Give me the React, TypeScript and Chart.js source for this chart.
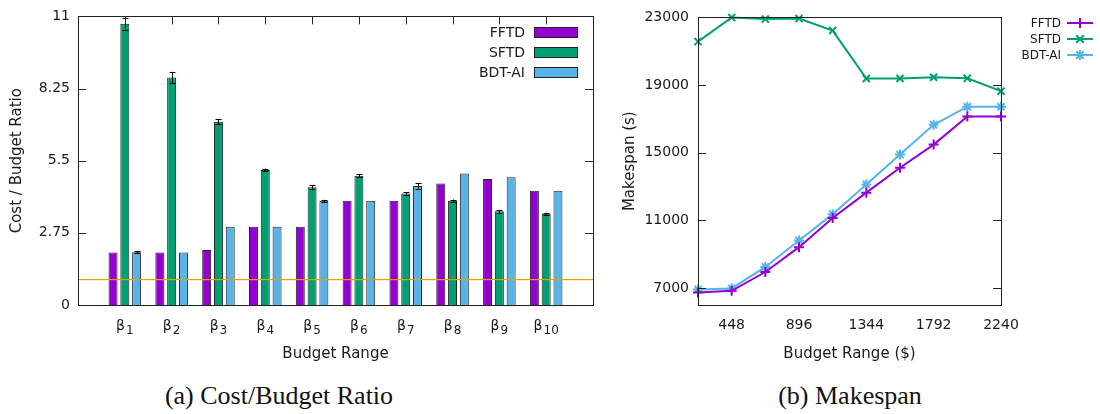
import { useEffect, useRef } from 'react';
import { Chart, registerables } from 'chart.js';
Chart.register(...registerables);

// ---- Chart (a): Cost / Budget Ratio ----
const categoryBase = 'β';
const categorySubs = ['1', '2', '3', '4', '5', '6', '7', '8', '9', '10'];
const fftdRatio = [2.0, 2.0, 2.1, 2.98, 2.98, 3.97, 3.97, 4.63, 4.8, 4.35];
const sftdRatio = [10.72, 8.67, 6.98, 5.15, 4.49, 4.93, 4.25, 3.97, 3.57, 3.48];
const bdtRatio = [2.01, 2.0, 2.98, 2.98, 3.97, 3.97, 4.54, 5.01, 4.87, 4.35];
const fftdErr = [0, 0, 0, 0, 0, 0, 0, 0, 0, 0];
const sftdErr = [0.22, 0.22, 0.1, 0.05, 0.08, 0.05, 0.04, 0.05, 0.06, 0.04];
const bdtErr = [0.03, 0, 0, 0, 0.04, 0, 0.1, 0, 0, 0];
const ratioTicks = [0, 2.75, 5.5, 8.25, 11];
const budgetLine = 1;

// ---- Chart (b): Makespan ----
const budgets = [224, 448, 672, 896, 1120, 1344, 1568, 1792, 2016, 2240];
const fftdMakespan = [6740, 6840, 7950, 9420, 11140, 12640, 14110, 15480, 17140, 17140];
const sftdMakespan = [21570, 23000, 22900, 22930, 22220, 19390, 19390, 19460, 19400, 18640];
const bdtMakespan = [6920, 6980, 8250, 9810, 11370, 13130, 14890, 16650, 17720, 17720];
const budgetTicks = [448, 896, 1344, 1792, 2240];
const makespanTicks = [7000, 11000, 15000, 19000, 23000];

const seriesNames = ['FFTD', 'SFTD', 'BDT-AI'];
const colors = ['#9400D3', '#009E73', '#56B4E9'];
const FONT = "'DejaVu Sans', Verdana, sans-serif";
const TEXT = '#1a1a1a';

const frameAndTicks1 = {
  id: 'frameAndTicks1',
  afterDatasetsDraw(chart: any) {
    const { ctx, chartArea: a, scales } = chart;
    const y = scales.y;
    ctx.save();
    // budget line
    ctx.fillStyle = '#E69F00';
    const yl = Math.round(y.getPixelForValue(budgetLine));
    ctx.fillRect(a.left, yl, a.right - a.left, 1.2);
    // error bars
    const errs = [fftdErr, sftdErr, bdtErr];
    const vals = [fftdRatio, sftdRatio, bdtRatio];
    ctx.strokeStyle = '#000';
    ctx.lineWidth = 1;
    chart.data.datasets.forEach((_: any, di: number) => {
      const meta = chart.getDatasetMeta(di);
      errs[di].forEach((e: number, i: number) => {
        if (!e) return;
        const el = meta.data[i + 1];
        if (!el) return;
        const x = Math.round(el.x) + 0.5;
        const y1 = y.getPixelForValue(vals[di][i] + e);
        const y2 = y.getPixelForValue(vals[di][i] - e);
        ctx.beginPath();
        ctx.moveTo(x, y1);
        ctx.lineTo(x, y2);
        ctx.moveTo(x - 3, Math.round(y1) + 0.5);
        ctx.lineTo(x + 3, Math.round(y1) + 0.5);
        ctx.moveTo(x - 3, Math.round(y2) + 0.5);
        ctx.lineTo(x + 3, Math.round(y2) + 0.5);
        ctx.stroke();
      });
    });
    ctx.restore();
  },
  afterDraw(chart: any) {
    const { ctx, chartArea: a, scales } = chart;
    ctx.save();
    ctx.strokeStyle = '#222';
    ctx.lineWidth = 1;
    ctx.strokeRect(Math.round(a.left) + 0.5, Math.round(a.top) + 0.5, Math.round(a.right - a.left), Math.round(a.bottom - a.top));
    ctx.beginPath();
    ratioTicks.forEach((v) => {
      if (v === ratioTicks[0] || v === ratioTicks[ratioTicks.length - 1]) return;
      const yy = Math.round(scales.y.getPixelForValue(v)) + 0.5;
      ctx.moveTo(a.left, yy);
      ctx.lineTo(a.left + 8, yy);
      ctx.moveTo(a.right - 8, yy);
      ctx.lineTo(a.right, yy);
    });
    categorySubs.forEach((_, i) => {
      const xx = Math.round(scales.x.getPixelForValue(i + 1)) + 0.5;
      ctx.moveTo(xx, a.top);
      ctx.lineTo(xx, a.top + 8);
    });
    ctx.stroke();
    // category tick labels: β with subscript
    ctx.fillStyle = TEXT;
    ctx.textBaseline = 'alphabetic';
    ctx.textAlign = 'left';
    const baseFont = `14px ${FONT}`;
    const subFont = `12px ${FONT}`;
    categorySubs.forEach((s, i) => {
      const cx = scales.x.getPixelForValue(i + 1);
      ctx.font = baseFont;
      const wb = ctx.measureText(categoryBase).width;
      ctx.font = subFont;
      const ws = ctx.measureText(s).width;
      const x0 = cx - (wb + ws + 1) / 2;
      ctx.font = baseFont;
      ctx.fillText(categoryBase, x0, a.bottom + 25);
      ctx.font = subFont;
      ctx.fillText(s, x0 + wb + 1, a.bottom + 29);
    });
    // legend
    ctx.font = `14px ${FONT}`;
    ctx.textAlign = 'right';
    ctx.textBaseline = 'middle';
    seriesNames.forEach((n, i) => {
      const cy = 32 + i * 20;
      ctx.fillStyle = TEXT;
      ctx.fillText(n, 525, cy + 1);
      ctx.fillStyle = colors[i];
      ctx.fillRect(534, cy - 5, 43, 10);
      ctx.strokeStyle = '#222';
      ctx.strokeRect(534.5, cy - 5 + 0.5, 43, 10);
    });
    ctx.restore();
  },
};

function drawMarker(ctx: CanvasRenderingContext2D, style: number, x: number, y: number, r: number) {
  ctx.beginPath();
  if (style === 0 || style === 2) {
    ctx.moveTo(x - r, y); ctx.lineTo(x + r, y);
    ctx.moveTo(x, y - r); ctx.lineTo(x, y + r);
  }
  if (style === 1 || style === 2) {
    const d = r * 0.75;
    ctx.moveTo(x - d, y - d); ctx.lineTo(x + d, y + d);
    ctx.moveTo(x - d, y + d); ctx.lineTo(x + d, y - d);
  }
  ctx.stroke();
}

const frameAndTicks2 = {
  id: 'frameAndTicks2',
  afterDraw(chart: any) {
    const { ctx, chartArea: a, scales } = chart;
    ctx.save();
    ctx.strokeStyle = '#222';
    ctx.lineWidth = 1;
    ctx.strokeRect(Math.round(a.left) + 0.5, Math.round(a.top) + 0.5, Math.round(a.right - a.left), Math.round(a.bottom - a.top));
    ctx.beginPath();
    makespanTicks.forEach((v) => {
      if (v === makespanTicks[makespanTicks.length - 1]) return;
      const yy = Math.round(scales.y.getPixelForValue(v)) + 0.5;
      ctx.moveTo(a.left, yy);
      ctx.lineTo(a.left + 8, yy);
      ctx.moveTo(a.right - 8, yy);
      ctx.lineTo(a.right, yy);
    });
    ctx.stroke();
    // legend
    ctx.font = `12px ${FONT}`;
    ctx.textAlign = 'right';
    ctx.textBaseline = 'middle';
    seriesNames.forEach((n, i) => {
      const cy = 23 + i * 16;
      ctx.fillStyle = TEXT;
      ctx.fillText(n, 461, cy + 1);
      ctx.strokeStyle = colors[i];
      ctx.lineWidth = 2;
      ctx.beginPath();
      ctx.moveTo(467, cy);
      ctx.lineTo(493, cy);
      ctx.stroke();
      drawMarker(ctx, i, 480, cy, 5);
    });
    ctx.restore();
  },
};

function makeRatioConfig(): any {
  const labels = ['', ...categorySubs.map((s) => categoryBase + s), ''];
  const pad = (arr: number[]) => [null, ...arr, null];
  const vals = [fftdRatio, sftdRatio, bdtRatio];
  return {
    type: 'bar',
    data: {
      labels,
      datasets: seriesNames.map((n, i) => ({
        label: n,
        data: pad(vals[i]),
        backgroundColor: colors[i],
        borderColor: '#222',
        borderWidth: 1,
        categoryPercentage: 0.756,
        barPercentage: 0.76,
      })),
    },
    options: {
      responsive: false,
      animation: false,
      layout: { padding: { left: 0, right: 7, top: 15, bottom: 0 } },
      plugins: { legend: { display: false }, tooltip: { enabled: false } },
      scales: {
        x: {
          type: 'category',
          offset: false,
          grid: { display: false, drawTicks: false },
          border: { display: false },
          ticks: { display: false, autoSkip: false },
          title: {
            display: true,
            text: 'Budget Range',
            color: TEXT,
            font: { family: FONT, size: 15 },
            padding: { top: 0, bottom: 7 },
          },
          afterFit: (s: any) => { s.height = 65; },
        },
        y: {
          min: 0,
          max: 11,
          grid: { display: false, drawTicks: false },
          border: { display: false },
          afterBuildTicks: (s: any) => { s.ticks = ratioTicks.map((v) => ({ value: v })); },
          ticks: {
            padding: 8,
            color: TEXT,
            font: { family: FONT, size: 14 },
            callback: (v: any) => String(v),
          },
          title: {
            display: true,
            text: 'Cost / Budget Ratio',
            color: TEXT,
            font: { family: FONT, size: 15 },
            padding: { top: 8, bottom: 0 },
          },
          afterFit: (s: any) => { s.width = 78; },
        },
      },
    },
    plugins: [frameAndTicks1],
  };
}

function makeMakespanConfig(): any {
  const vals = [fftdMakespan, sftdMakespan, bdtMakespan];
  const styles = ['cross', 'crossRot', 'star'];
  return {
    type: 'line',
    data: {
      datasets: seriesNames.map((n, i) => ({
        label: n,
        data: budgets.map((b, j) => ({ x: b, y: vals[i][j] })),
        borderColor: colors[i],
        backgroundColor: colors[i],
        borderWidth: 2,
        pointStyle: styles[i],
        pointRadius: 5,
        pointBorderWidth: 2,
        pointBorderColor: colors[i],
        pointBackgroundColor: colors[i],
        tension: 0,
        clip: false,
        fill: false,
      })),
    },
    options: {
      responsive: false,
      animation: false,
      layout: { padding: { left: 0, right: 99, top: 15, bottom: 0 } },
      plugins: { legend: { display: false }, tooltip: { enabled: false } },
      scales: {
        x: {
          type: 'linear',
          min: 224,
          max: 2240,
          grid: { display: false, drawTicks: false },
          border: { display: false },
          afterBuildTicks: (s: any) => { s.ticks = budgetTicks.map((v) => ({ value: v })); },
          ticks: {
            padding: 12,
            maxRotation: 0,
            color: TEXT,
            font: { family: FONT, size: 14 },
            callback: (v: any) => String(v),
          },
          title: {
            display: true,
            text: 'Budget Range ($)',
            color: TEXT,
            font: { family: FONT, size: 15 },
            padding: { top: 0, bottom: 7 },
          },
          afterFit: (s: any) => { s.height = 65; },
        },
        y: {
          min: 6000,
          max: 23000,
          grid: { display: false, drawTicks: false },
          border: { display: false },
          afterBuildTicks: (s: any) => { s.ticks = makespanTicks.map((v) => ({ value: v })); },
          ticks: {
            padding: 9,
            color: TEXT,
            font: { family: FONT, size: 14 },
            callback: (v: any) => String(v),
          },
          title: {
            display: true,
            text: 'Makespan (s)',
            color: TEXT,
            font: { family: FONT, size: 15 },
            padding: { top: 21, bottom: 0 },
          },
          afterFit: (s: any) => { s.width = 98; },
        },
      },
    },
    plugins: [frameAndTicks2],
  };
}

export default function App() {
  const r1 = useRef<HTMLCanvasElement>(null);
  const r2 = useRef<HTMLCanvasElement>(null);
  useEffect(() => {
    const c1 = new Chart(r1.current as HTMLCanvasElement, makeRatioConfig());
    const c2 = new Chart(r2.current as HTMLCanvasElement, makeMakespanConfig());
    return () => {
      c1.destroy();
      c2.destroy();
    };
  }, []);
  const caption: any = {
    position: 'absolute',
    top: 381,
    fontFamily: "'Liberation Serif', 'Times New Roman', serif",
    fontSize: 26,
    color: '#111',
    textAlign: 'center',
    whiteSpace: 'nowrap',
    lineHeight: '30px',
  };
  return (
    <div style={{ position: 'absolute', left: 0, top: 0, width: 1100, height: 414, background: '#fff', overflow: 'hidden' }}>
      <canvas ref={r1} width={600} height={370} style={{ position: 'absolute', left: 0, top: 0, width: 600, height: 370 }} />
      <canvas ref={r2} width={500} height={370} style={{ position: 'absolute', left: 600, top: 0, width: 500, height: 370 }} />
      <div style={{ ...caption, left: 129, width: 300 }}>(a) Cost/Budget Ratio</div>
      <div style={{ ...caption, left: 700, width: 300 }}>(b) Makespan</div>
    </div>
  );
}
